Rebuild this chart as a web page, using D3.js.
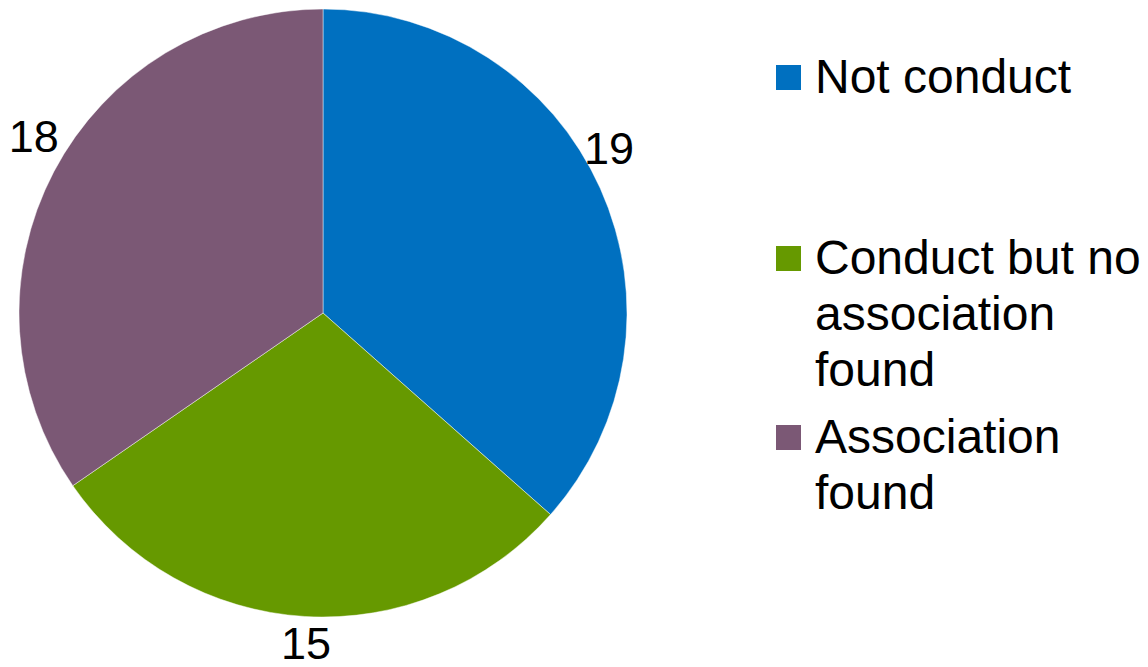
<!DOCTYPE html>
<html>
<head>
<meta charset="utf-8">
<script src="https://cdn.jsdelivr.net/npm/d3@7"></script>
<style>
  html, body { margin: 0; padding: 0; background: #ffffff; }
  svg { display: block; }
  text { font-family: "Liberation Sans", Arial, sans-serif; fill: #000000; }
</style>
</head>
<body>
<svg id="chart" width="1148" height="667"></svg>
<script>
// Survey outcome counts
const categories = ["Not conduct", "Conduct but no association found", "Association found"];
const values = [19, 15, 18];
const legendLines = [["Not conduct"], ["Conduct but no", "association", "found"], ["Association", "found"]];
const colors = ["#0070c0", "#669900", "#7b5875"];

const svg = d3.select("#chart");
const cx = 323, cy = 313, radius = 304;

const data = categories.map((c, i) => ({ category: c, value: values[i], color: colors[i] }));

const pie = d3.pie().sort(null).value(d => d.value);
const arcs = pie(data);

const arc = d3.arc().innerRadius(0).outerRadius(radius);
const labelArc = d3.arc().innerRadius(330).outerRadius(330);

const g = svg.append("g").attr("transform", `translate(${cx},${cy})`);

g.selectAll("path.slice")
  .data(arcs)
  .enter().append("path")
  .attr("class", "slice")
  .attr("d", arc)
  .attr("fill", d => d.data.color)
  .attr("stroke", "rgba(255,255,255,0.45)")
  .attr("stroke-width", 1);

// Value labels sit just outside each slice, nudged for readability
const labelNudge = [[-15, -29], [3, 1], [3, -23]];
g.selectAll("text.value")
  .data(arcs)
  .enter().append("text")
  .attr("class", "value")
  .attr("x", (d, i) => labelArc.centroid(d)[0] + labelNudge[i][0])
  .attr("y", (d, i) => labelArc.centroid(d)[1] + labelNudge[i][1])
  .attr("dy", "0.35em")
  .attr("text-anchor", "middle")
  .style("font-size", "45px")
  .text(d => d.data.value);

// Legend
const legendX = 776, swatch = 25, textX = 815, lineH = 56;
const entryBaselines = [93, 274, 453];
const legend = svg.append("g").attr("class", "legend");
data.forEach((d, i) => {
  const base = entryBaselines[i];
  legend.append("rect")
    .attr("x", legendX)
    .attr("y", base - 28)
    .attr("width", swatch)
    .attr("height", swatch)
    .attr("fill", d.color);
  const t = legend.append("text")
    .attr("x", textX)
    .attr("y", base)
    .style("font-size", "48px");
  legendLines[i].forEach((line, j) => {
    t.append("tspan")
      .attr("x", textX)
      .attr("y", base + j * lineH)
      .text(line);
  });
});
</script>
</body>
</html>
